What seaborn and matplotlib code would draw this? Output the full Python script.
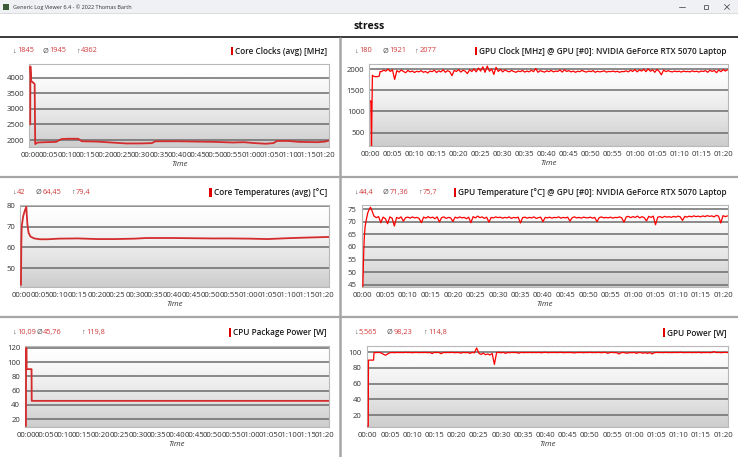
import numpy as np
import seaborn as sns
import matplotlib.pyplot as plt
from matplotlib.patches import Rectangle
from matplotlib.ticker import FuncFormatter, MultipleLocator
from matplotlib.transforms import IdentityTransform

# values, time in minutes

# Core Clocks (avg) [MHz]
core_clock_t = [0.0, 0.05, 0.25, 0.7, 1.2, 1.35, 2, 4, 7, 8.5, 10, 13, 14, 18, 22, 26,
                30, 33, 34, 40, 45, 50, 55, 58, 61, 64, 66, 67, 70, 73, 78, 80, 81]
core_clock = [2500, 4362, 3900, 3850, 3800, 1870, 1920, 1930, 1940, 2030, 2040, 2040,
              1960, 1950, 1920, 1890, 1890, 1900, 1960, 1960, 1950, 1940, 1920, 1930,
              1900, 1880, 1900, 1970, 1970, 1940, 1930, 1950, 1980]

# GPU Clock [MHz]: start-up, then half-minute samples from 2.5 min
gpu_clock_start_t = [0.0, 0.1, 0.25, 0.45, 0.8, 1.5, 2.0, 2.2]
gpu_clock_start = [1250, 1250, 180, 1860, 1830, 1825, 1840, 1950]
gpu_clock = [
    1945, 1980, 1960, 2005, 1950, 1990, 1760, 1970, 1935, 1985,
    1950, 1920, 1975, 1940, 1960, 1925, 1955, 1940, 1970, 1930,
    1950, 1915, 1960, 1945, 1980, 1925, 1965, 1940, 1990, 1930,
    1970, 1945, 1850, 1975, 1950, 1995, 1935, 1980, 1955, 1900,
    1990, 1950, 2010, 1940, 2030, 1960, 2060, 1930, 2077, 1955,
    2010, 1880, 2050, 1950, 2000, 1940, 1985, 1960, 1940, 1975,
    1950, 1930, 1960, 1945, 1975, 1935, 1960, 1940, 1980, 1945,
    2020, 1930, 1970, 1950, 1935, 1965, 1945, 1975, 1940, 1960,
    1950, 1985, 1935, 1990, 1950, 1970, 1940, 1960, 1930, 1955,
    1945, 1975, 1950, 1935, 1960, 1945, 1970, 1930, 1955, 1940,
    1950, 1965, 1935, 1950, 1945, 1960, 1940, 1955, 1930, 1950,
    1945, 1965, 1940, 1980, 1950, 1995, 1940, 1985, 1960, 2000,
    1945, 2010, 1955, 1990, 1930, 2000, 1950, 1870, 1985, 1945,
    1970, 1950, 1940, 1960, 1945, 1955, 1935, 1960, 1945, 1950,
    1940, 1965, 1945, 1955, 1935, 1960, 1950, 1970, 1930, 1980,
    1950, 1975, 1920, 1985, 1945, 1995, 1960, 1990,
]

# Core Temperatures (avg) [°C]
core_temp_t = [0.0, 0.1, 0.2, 0.6, 1.0, 1.4, 1.7, 2.0, 2.5, 3.5, 5, 7, 10, 15, 20,
               25, 30, 33, 40, 45, 50, 55, 60, 65, 70, 75, 81]
core_temp = [42, 62, 70, 75, 77.5, 79.4, 71, 67, 65.2, 64.3, 63.9, 63.9, 64.2, 64.3,
             64.0, 64.0, 64.2, 64.5, 64.5, 64.4, 64.3, 64.3, 64.2, 64.0, 64.4, 64.7, 65.0]

# GPU Temperature [°C]
gpu_temp_start_t = [0.0, 0.15, 0.3, 0.5, 0.8, 1.1, 1.4, 1.7, 2.0, 2.3]
gpu_temp_start = [44.4, 55, 63, 68, 71, 73.5, 74.8, 75.7, 74.5, 73.0]
gpu_temp = [
    72.2, 71.6, 72.0, 69.6, 71.8, 71.2, 69.2, 71.9, 71.4, 68.3,
    71.7, 71.3, 71.9, 70.2, 71.6, 71.8, 71.4, 71.9, 71.5, 71.7,
    71.3, 69.6, 71.8, 71.4, 72.0, 71.5, 71.8, 71.2, 71.9, 69.9,
    71.6, 71.9, 71.3, 71.7, 71.5, 70.1, 71.8, 71.4, 71.9, 71.5,
    71.7, 71.2, 71.8, 69.6, 72.0, 71.5, 72.2, 71.6, 71.9, 71.3,
    71.8, 69.8, 71.7, 71.5, 71.9, 71.6, 71.8, 71.4, 71.7, 71.5,
    71.9, 71.3, 71.7, 71.5, 71.8, 69.5, 71.6, 71.8, 71.4, 71.7,
    71.5, 71.9, 71.3, 71.6, 71.8, 70.0, 71.7, 71.5, 71.8, 71.4,
    71.7, 71.6, 71.9, 71.4, 71.7, 71.5, 71.8, 70.2, 71.6, 71.9,
    71.5, 71.7, 71.4, 71.8, 71.6, 71.5, 71.8, 71.4, 71.7, 70.0,
    71.6, 71.9, 71.5, 71.7, 71.5, 71.8, 71.4, 71.7, 71.6, 71.9,
    71.5, 69.8, 71.9, 72.1, 71.6, 72.0, 71.7, 72.2, 71.5, 72.0,
    71.6, 70.3, 72.1, 71.7, 72.2, 68.8, 71.8, 72.0, 71.6, 72.1,
    71.8, 72.0, 71.7, 72.1, 71.8, 72.2, 71.9, 70.5, 72.1, 71.8,
    72.2, 71.9, 72.3, 72.0, 72.2, 71.9, 72.3, 72.0, 72.4, 72.1,
    72.3, 71.9, 72.5, 72.2, 69.5, 72.4, 72.0, 72.3,
]

# CPU Package Power [W]
cpu_power_t = [0.0, 0.05, 0.15, 0.2, 1.5, 1.55, 81]
cpu_power = [10.09, 119.8, 119.8, 90, 90, 45.5, 45.5]

# GPU Power [W]
gpu_power_start_t = [0.0, 0.1, 0.15, 1.3, 1.4, 2.0]
gpu_power_start = [5.565, 5.565, 90, 90, 99.5, 99.6]
gpu_power = [
    99.8, 99.2, 97.5, 96.2, 98.0, 99.5, 99.7, 99.4, 99.8, 99.6,
    99.7, 99.5, 99.9, 99.6, 99.8, 99.4, 99.7, 99.8, 99.5, 99.7,
    99.6, 99.8, 99.5, 99.7, 98.4, 99.9, 99.6, 99.8, 98.2, 99.7,
    99.5, 99.8, 99.6, 99.9, 99.4, 99.7, 99.6, 98.9, 99.8, 99.5,
    99.7, 98.6, 99.9, 99.3, 105.5, 98.8, 97.2, 98.9, 96.8, 97.9,
    96.5, 98.5, 84.5, 99.6, 99.8, 99.4, 99.9, 98.6, 99.7, 99.5,
    99.8, 99.6, 99.7, 98.8, 99.9, 99.5, 99.7, 99.6, 99.8, 99.5,
    99.7, 99.6, 99.8, 99.4, 99.7, 99.9, 99.5, 99.7, 99.6, 99.8,
    99.5, 99.7, 99.9, 99.4, 99.7, 99.6, 99.8, 99.5, 99.2, 99.7,
    99.6, 99.8, 99.4, 99.7, 99.6, 99.9, 99.5, 99.7, 99.6, 99.8,
    99.5, 99.7, 99.9, 98.7, 99.6, 99.8, 99.5, 99.7, 97.8, 99.4,
    99.8, 99.1, 98.9, 99.6, 99.4, 99.8, 98.6, 99.7, 99.5, 98.8,
    99.6, 98.5, 99.7, 97.9, 99.4, 99.8, 99.6, 99.7, 99.5, 99.8,
    99.6, 99.7, 99.5, 99.8, 99.6, 99.7, 99.9, 99.5, 99.7, 99.6,
    99.8, 99.5, 99.7, 99.6, 99.9, 99.4, 99.7, 99.6, 99.8, 99.5,
    99.7, 100.8, 99.6, 99.8, 99.5, 99.7, 99.9, 99.6,
]

stats = {
    "cpu_clock": ("1845", "1945", "4362"),
    "gpu_clock": ("180", "1921", "2077"),
    "cpu_temp": ("42", "64,45", "79,4"),
    "gpu_temp": ("44,4", "71,36", "75,7"),
    "cpu_power": ("10,09", "45,76", "119,8"),
    "gpu_power": ("5,565", "98,23", "114,8"),
}
titles = {
    "cpu_clock": "Core Clocks (avg) [MHz]",
    "gpu_clock": "GPU Clock [MHz] @ GPU [#0]: NVIDIA GeForce RTX 5070 Laptop",
    "cpu_temp": "Core Temperatures (avg) [°C]",
    "gpu_temp": "GPU Temperature [°C] @ GPU [#0]: NVIDIA GeForce RTX 5070 Laptop",
    "cpu_power": "CPU Package Power [W]",
    "gpu_power": "GPU Power [W]",
}


def sampled(start_t, start_v, values):
    # log after start-up is written every 30 s from 2.5 min on
    t = list(start_t) + list(2.5 + 0.5 * np.arange(len(values)))
    return t, list(start_v) + list(values)


series = {
    "cpu_clock": (core_clock_t, core_clock),
    "gpu_clock": sampled(gpu_clock_start_t, gpu_clock_start, gpu_clock),
    "cpu_temp": (core_temp_t, core_temp),
    "gpu_temp": sampled(gpu_temp_start_t, gpu_temp_start, gpu_temp),
    "cpu_power": (cpu_power_t, cpu_power),
    "gpu_power": sampled(gpu_power_start_t, gpu_power_start, gpu_power),
}

# layout in screen pixels: axes box, y range, tick step, x of the stat numbers,
# text row y, title right edge
layout = {
    "cpu_clock": dict(box=(29.3, 64.3, 329, 147.3), ylim=(1766, 4430), step=500,
                      nx=(17.3, 49.3, 81), ty=51, tx=327, left=True),
    "gpu_clock": dict(box=(369.3, 64.3, 728, 146), ylim=(180, 2120), step=500,
                      nx=(359.3, 389.3, 419.5), ty=51, tx=726.5, left=False),
    "cpu_temp": dict(box=(20, 205, 329, 286.7), ylim=(41.2, 80.3), step=10,
                     nx=(17.3, 42.7, 76), ty=192.5, tx=327, left=True),
    "gpu_temp": dict(box=(361.7, 205, 728, 286.7), ylim=(44.3, 76.6), step=5,
                     nx=(359, 390, 423), ty=192.5, tx=726.5, left=False),
    "cpu_power": dict(box=(25, 345.5, 329, 427.3), ylim=(8.4, 123.2), step=20,
                      nx=(17.3, 43.3, 86), ty=332.5, tx=327, left=True),
    "gpu_power": dict(box=(366.7, 346, 728, 427), ylim=(4.7, 108), step=20,
                      nx=(359, 394, 428.3), ty=332.5, tx=726.5, left=False),
}

W, H = 738, 457
sns.set_style("white")
plt.rcParams["font.family"] = ["Open Sans", "DejaVu Sans"]

fig = plt.figure(figsize=(W / 100, H / 100), dpi=100)
bg = fig.add_axes([0, 0, 1, 1])
bg.set_xlim(0, W)
bg.set_ylim(H, 0)
bg.axis("off")

# window chrome
bg.add_patch(Rectangle((0, 0), W, 13, color="#eff1f4", lw=0))
bg.plot([0, W], [13, 13], color="#d6d6d6", lw=0.6)
bg.add_patch(Rectangle((3, 3.5), 6, 6, color="#3a5a3a", lw=0))
bg.text(13, 6.8, "Generic Log Viewer 6.4 - © 2022 Thomas Barth", fontsize=3.95,
        color="#333333", va="center")
bg.plot([679, 685], [7, 7], color="#555555", lw=0.6)
bg.add_patch(Rectangle((703.5, 4.5), 4.5, 4.5, fill=False, ec="#555555", lw=0.6))
bg.plot([724.5, 729.5], [4.5, 9.5], color="#555555", lw=0.6)
bg.plot([724.5, 729.5], [9.5, 4.5], color="#555555", lw=0.6)
bg.text(369, 26.5, "stress", fontsize=7.6, fontweight="bold", color="#111111",
        ha="center", va="center")
bg.plot([0, W], [37, 37], color="#3a3a3a", lw=1.4)
bg.plot([340, 340], [37.5, H], color="#a6a6a6", lw=1.8)
for yy in (177, 317):
    bg.plot([0, 339], [yy, yy], color="#a6a6a6", lw=1.6)
    bg.plot([341, W], [yy, yy], color="#a6a6a6", lw=1.6)

grad = (1 - 0.2 * np.linspace(0, 1, 256) ** 1.4).reshape(-1, 1)
fmt = FuncFormatter(lambda v, p: f"{int(round(v)) // 60:02d}:{int(round(v)) % 60:02d}")

title_texts = []
for key, (t, v) in series.items():
    lay = layout[key]
    x0, y0, x1, y1 = lay["box"]
    bg.imshow(grad, extent=(x0, x1, y1, y0), origin="upper", cmap="gray",
              vmin=0, vmax=1, aspect="auto", zorder=0)
    ax = fig.add_axes([x0 / W, 1 - y1 / H, (x1 - x0) / W, (y1 - y0) / H])
    ax.set_facecolor("none")
    color = "#d42c2c" if lay["left"] else "#ff0000"
    lw = 1.3 if lay["left"] else 0.9
    sns.lineplot(x=t, y=v, ax=ax, color=color, lw=lw, estimator=None, sort=False,
                 legend=False, zorder=3)
    ax.set_xlim(-0.25, 81.1)
    ax.set_ylim(*lay["ylim"])
    ax.xaxis.set_major_locator(MultipleLocator(5))
    ax.xaxis.set_major_formatter(fmt)
    ax.yaxis.set_major_locator(MultipleLocator(lay["step"]))
    ax.yaxis.grid(True, color="#6c6c6c", lw=1.1)
    ax.xaxis.grid(False)
    ax.set_axisbelow(True)
    for s in ax.spines.values():
        s.set_color("#b8b8b8")
        s.set_linewidth(0.8)
    ax.tick_params(axis="both", direction="out", length=2.5, width=0.6,
                   color="#8a8a8a", labelsize=5.6, labelcolor="#333333", pad=1)
    ax.set_xlabel("Time", fontsize=5.6, style="italic", color="#333333", labelpad=1.5)
    ax.set_ylabel("")

    ty = lay["ty"]
    for nx, sym, num in zip(lay["nx"], ("↓", "Ø", "↑"), stats[key]):
        fam = ["Open Sans"] if sym == "Ø" else ["Liberation Sans", "DejaVu Sans"]
        bg.text(nx - 1.3, ty, sym, fontsize=5.3, color="#505050", va="center",
                ha="right", family=fam)
        bg.text(nx, ty, num, fontsize=5.3, color="#d03a3a", va="center")
    tt = bg.text(lay["tx"], ty, titles[key], fontsize=5.95, fontweight="semibold",
                 color="#1a1a1a", ha="right", va="center")
    title_texts.append((tt, ty))

# red marker bar in front of each panel title
renderer = fig.canvas.get_renderer()
for tt, ty in title_texts:
    bb = tt.get_window_extent(renderer)
    fig.add_artist(Rectangle((bb.x0 - 4.3, H - ty - 4.3), 2.3, 8.6, color="#e00000",
                             lw=0, transform=IdentityTransform()))

fig.savefig("out.png", dpi=100)
